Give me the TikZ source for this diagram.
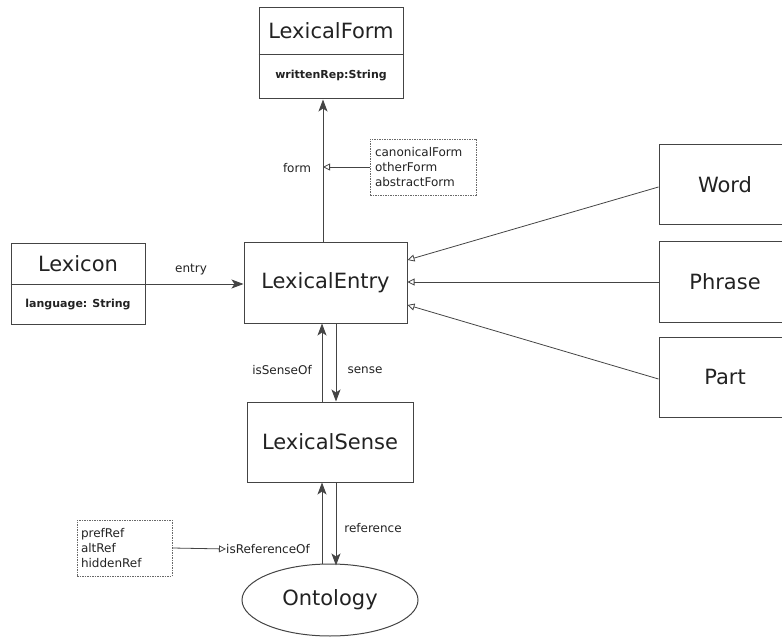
\documentclass[tikz,border=0pt]{standalone}
\usepackage{fontspec}
\setmainfont{DejaVu Sans}
\usetikzlibrary{arrows.meta,shapes.geometric,calc}
\definecolor{ink}{HTML}{222222}
\definecolor{edge}{HTML}{444444}
\tikzset{
  umlbox/.style={draw=edge, line width=1pt, minimum height=80pt, inner sep=0pt, text=ink, font=\fontsize{21}{25}\selectfont},
  attrtext/.style={text=ink, inner sep=0pt, font=\fontsize{11}{13}\selectfont\bfseries},
  lbl/.style={text=ink, inner sep=0pt, font=\fontsize{12}{15}\selectfont},
  notebox/.style={draw=edge!80, line width=0.6pt, dash pattern=on 1.5pt off 1pt, align=left, text=ink, inner sep=0pt, font=\fontsize{12}{15}\selectfont},
  assoc/.style={draw=edge, line width=0.9pt, -{Stealth[length=12pt,width=9pt,inset=3pt]}},
  gen/.style={draw=edge, line width=0.8pt, -{Triangle[open,length=7pt,width=7pt]}},
}
\begin{document}
\begin{tikzpicture}[x=1pt,y=-1pt]
\useasboundingbox (0,0) rectangle (782,639);
% LexicalForm
\node[umlbox, minimum width=144pt, minimum height=91pt] (lf) at (331,53.5) {};
\node[umlbox, draw=none, minimum height=0pt] (lfName) at (331,31) {LexicalForm};
\node[attrtext] (lfAttr) at (331,76) {writtenRep:String};
\draw[edge, line width=1pt] (lf.west |- 0,55) -- (lf.east |- 0,55);
% Lexicon
\node[umlbox, minimum width=134pt, minimum height=80pt] (lx) at (78,284) {};
\node[umlbox, draw=none, minimum height=0pt] (lxName) at (78,264) {Lexicon};
\node[attrtext] (lxAttr) at (78,305) {language: String};
\draw[edge, line width=1pt] (lx.west) -- (lx.east);
% LexicalEntry
\node[umlbox, minimum width=163pt] (le) at (325.5,283) {LexicalEntry};
% LexicalSense
\node[umlbox, minimum width=166pt] (ls) at (330,442) {LexicalSense};
% Ontology
\node[draw=edge, line width=1pt, ellipse, minimum width=176pt, minimum height=72pt, inner sep=0pt, text=ink, font=\fontsize{21}{25}\selectfont] (ont) at (330,600) {Ontology};
% Subclasses
\node[umlbox, minimum width=132pt] (wd) at (725,185) {Word};
\node[umlbox, minimum width=132pt] (ph) at (725,282) {Phrase};
\node[umlbox, minimum width=132pt] (pt) at (725,377) {Part};
% notes
\node[notebox, minimum width=106pt, minimum height=56pt, text width=96pt] (fb) at (423,167) {canonicalForm\\otherForm\\abstractForm};
\node[notebox, minimum width=95pt, minimum height=56pt, text width=87pt] (rb) at (124.5,548) {prefRef\\altRef\\hiddenRef};
% labels
\node[lbl] (formLbl) at (297,168) {form};
\node[lbl] (entryLbl) at (191,270) {entry};
\node[lbl] (isSenseLbl) at (282,370) {isSenseOf};
\node[lbl] (senseLbl) at (365,370) {sense};
\node[lbl] (refLbl) at (373,528) {reference};
\node[lbl, anchor=west] (isRefLbl) at (226,549) {isReferenceOf};
% connectors
\draw[assoc] ([xshift=-2.5pt]le.north) -- ([xshift=-2.5pt]le.north |- lf.south);
\draw[gen] (fb.west) -- ([xshift=-2.5pt]le.north |- fb.west);
\draw[assoc] (lx.east) -- (lx.east -| le.west);
\draw[assoc] ([xshift=-8pt]ls.north) -- ([xshift=-8pt]ls.north |- le.south);
\draw[assoc] ([xshift=6pt]ls.north |- le.south) -- ([xshift=6pt]ls.north);
\draw[assoc] ([xshift=-8pt]ont.north) -- ([xshift=-8pt]ont.north |- ls.south);
\draw[assoc] ([xshift=6pt]ls.south) -- ([xshift=6pt,yshift=-2pt]ont.north);
\draw[gen] (rb.east) -- (isRefLbl.west);
\draw[gen] ([yshift=-2pt]wd.west) -- ([yshift=23pt]le.east);
\draw[gen] (ph.west) -- (ph.west -| le.east);
\draw[gen] ([yshift=-2pt]pt.west) -- ([yshift=-22pt]le.east);
\end{tikzpicture}
\end{document}
